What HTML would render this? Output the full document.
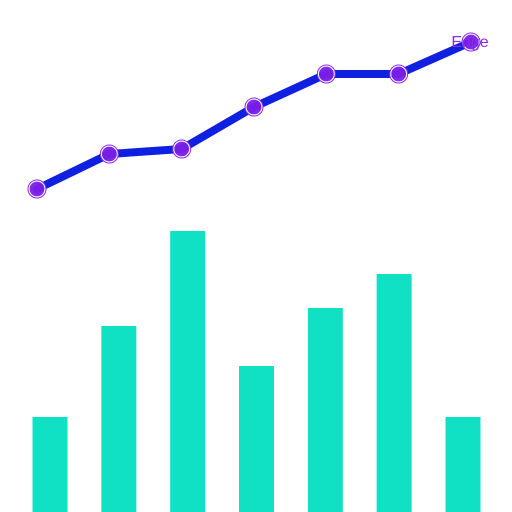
<!DOCTYPE html>
<html><head><meta charset="utf-8"><style>
html,body{margin:0;padding:0;background:#fff;}
svg{display:block;}
</style></head><body>
<svg id="chart" width="512" height="512" xmlns="http://www.w3.org/2000/svg"></svg>
<script>
const categories = ["A","B","C","D","E","F","G"];
const barValues = [95,186,281,146,204,238,95];
const lineValues = [323,358,363,405,438,438,470];
const seriesLabel = "Edge";

const NS = "http://www.w3.org/2000/svg";
const svg = document.getElementById('chart');
const yScale = v => 512 - v;
const barX = i => 50 + i * (463 - 50) / (categories.length - 1);
const lineX = i => 37 + i * (471 - 37) / (categories.length - 1);

function mk(tag, attrs){ const e = document.createElementNS(NS, tag); for (const k in attrs) e.setAttribute(k, attrs[k]); return e; }

const barsG = mk('g', {});


svg.appendChild(barsG);
barValues.forEach((v, i) => {
  const r = mk('rect', {x: barX(i) - 17.5, y: yScale(v), width: 35, height: v, fill: '#10e0c4'});
  
  
  barsG.appendChild(r);
});

const pts = lineValues.map((v, i) => lineX(i) + ',' + yScale(v)).join(' ');
const line = mk('polyline', {points: pts, fill: 'none', stroke: '#1020e0', 'stroke-width': 8, 'stroke-linejoin': 'round', 'stroke-linecap': 'round'});


svg.appendChild(line);

lineValues.forEach((v, i) => {
  const c = mk('circle', {cx: lineX(i), cy: yScale(v), r: 8, fill: '#7a1ee8', stroke: '#fff', 'stroke-width': 1.2, opacity: 0.95});
  
  
  svg.appendChild(c);
  const o = mk('circle', {cx: lineX(i), cy: yScale(v), r: 9, fill: 'none', stroke: '#8a2be2', 'stroke-width': 1});
  
  
  svg.appendChild(o);
});

const t = mk('text', {x: 470, y: 47, 'text-anchor': 'middle', 'font-family': 'Liberation Sans, DejaVu Sans, sans-serif', 'font-size': 16, fill: '#8a2be2'});
t.textContent = seriesLabel;


svg.appendChild(t);
</script>
</body></html>
